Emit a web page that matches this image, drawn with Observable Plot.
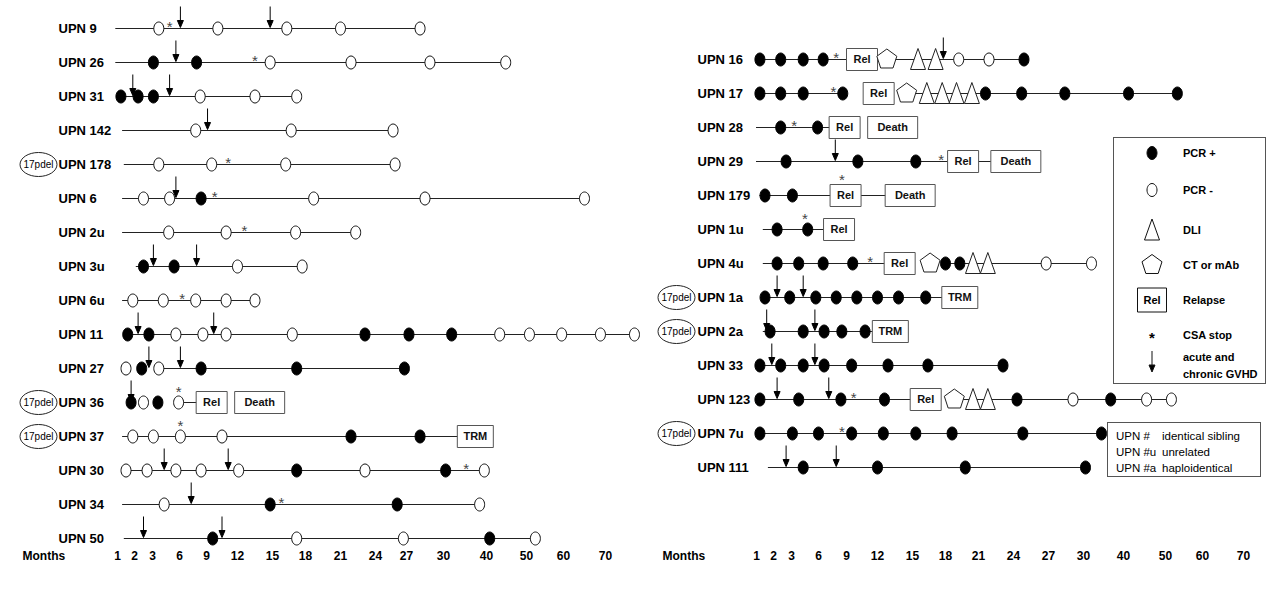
<!DOCTYPE html>
<html><head><meta charset="utf-8">
<script src="https://cdn.jsdelivr.net/npm/d3@7"></script>
<script src="https://cdn.jsdelivr.net/npm/@observablehq/plot@0.6"></script>
<style>
body{margin:0;background:#fff;}
#wrap{position:relative;width:1280px;height:592px;display:flex;font-family:"Liberation Sans",Arial,sans-serif;}
#wrap svg{display:block;}
#legend{position:absolute;left:0;top:0;pointer-events:none;}
</style></head><body><div id="wrap"></div>
<script>
// ---------- data ----------
const monthTicks = [1,2,3,6,9,12,15,18,21,24,27,30,40,50,60,70];

const leftRows = ["UPN 9","UPN 26","UPN 31","UPN 142","UPN 178","UPN 6","UPN 2u","UPN 3u","UPN 6u","UPN 11","UPN 27","UPN 36","UPN 37","UPN 30","UPN 34","UPN 50"];
const leftLines = [["UPN 9",0.9,28.1],["UPN 26",0.9,44.8],["UPN 31",1.2,17.2],["UPN 142",1.3,25.7],["UPN 178",1.4,25.9],["UPN 6",1.3,65],["UPN 2u",1.3,22.3],["UPN 3u",2.1,17.7],["UPN 6u",1.3,13.5],["UPN 11",1.6,76.9],["UPN 27",3.7,26.8],["UPN 36",5.9,9.5],["UPN 37",1.3,37.4],["UPN 30",1.5,39.5],["UPN 34",1.3,38.4],["UPN 50",1.4,52.4]];
const leftPcrPos = [["UPN 26",3.1,7.9],["UPN 31",1.2,2.2,3.1],["UPN 6",8.4],["UPN 3u",2.5,5.4],["UPN 11",1.6,2.8,23.1,27.2,31.9],["UPN 27",2.4,8.4,17.2,26.8],["UPN 36",1.8,3.6],["UPN 37",21.9,28.1],["UPN 30",17.2,30.5],["UPN 34",14.8,26.1],["UPN 50",9.6,40.8]];
const leftPcrNeg = [["UPN 9",3.7,10.1,16.3,21.0,28.1],["UPN 26",14.8,21.9,28.9,44.8],["UPN 31",8.3,13.5,17.2],["UPN 142",7.8,16.7,25.7],["UPN 178",3.7,9.5,16.2,25.9],["UPN 6",2.5,4.9,18.7,28.5,65],["UPN 2u",4.8,10.9,17.1,22.3],["UPN 3u",12,17.7],["UPN 6u",1.9,4.2,7.8,10.9,13.5],["UPN 11",5.6,8.6,10.9,16.8,43.3,50.8,59.5,68.8,76.9],["UPN 27",1.5,3.7],["UPN 36",2.5,5.9],["UPN 37",1.9,3.1,6.1,10.5],["UPN 30",1.5,2.7,5.6,8.4,12.1,23.1,39.5],["UPN 34",4.3,38.4],["UPN 50",17.2,26.7,52.4]];
const leftGvhd = [["UPN 9",6.1,14.8],["UPN 26",5.6],["UPN 31",1.9,4.9],["UPN 142",9.1],["UPN 6",5.6],["UPN 3u",3.1,7.9],["UPN 11",2.2,9.7],["UPN 27",2.8,6.1],["UPN 36",1.8],["UPN 30",4.3,11.1],["UPN 34",7.3],["UPN 50",2.5,10.5]];
const leftCsa = [["UPN 9",4.9],["UPN 26",13.5],["UPN 178",11.1],["UPN 6",9.8],["UPN 2u",12.6],["UPN 6u",6.3],["UPN 30",35.3],["UPN 34",15.8]];
const leftCsaAbove = [["UPN 36",5.9],["UPN 37",6.1]];
const leftCsaOverBox = [];
const leftEvents = [["UPN 36",9.5,"Rel"],["UPN 36",13.9,"Death"],["UPN 37",37.4,"TRM"]];
const leftCt = [];
const leftDli = [];
const leftDel = ["UPN 178","UPN 36","UPN 37"];

const rightRows = ["UPN 16","UPN 17","UPN 28","UPN 29","UPN 179","UPN 1u","UPN 4u","UPN 1a","UPN 2a","UPN 33","UPN 123","UPN 7u","UPN 111"];
const rightLines = [["UPN 16",1.2,10.5],["UPN 16",12.8,24.9],["UPN 17",1.2,8.6],["UPN 17",14.5,53.2],["UPN 28",1.0,8.8],["UPN 29",1.0,24.2],["UPN 179",1.2,14.8],["UPN 1u",1.4,8.2],["UPN 4u",1.4,13.9],["UPN 4u",18.0,32.0],["UPN 1a",1.4,19.3],["UPN 2a",1.4,13.1],["UPN 33",1.2,23.1],["UPN 123",1.2,16.2],["UPN 123",18.8,51.6],["UPN 7u",1.2,34.5],["UPN 111",1.7,30.5]];
const rightPcrPos = [["UPN 16",1.2,2.4,4.3,6.5,24.9],["UPN 17",1.2,2.4,4.3,8.6,21.6,24.7,28.4,41.2,53.2],["UPN 28",2.4,5.9],["UPN 29",2.7,10.1,15.3],["UPN 179",1.5,3.1],["UPN 1u",2.2,4.8],["UPN 4u",2.2,3.8,6.5,9.6,18.0,19.3],["UPN 1a",1.5,2.9,5.7,7.9,10.0,12.0,13.8,16.2],["UPN 2a",1.8,4.3,6.6,8.5,10.8],["UPN 33",1.2,2.4,4.3,6.6,9.5,12.9,16.4,23.1],["UPN 123",1.2,3.8,8.4,12.6,24.3,36.8],["UPN 7u",1.2,3.1,6.0,9.5,12.5,15.3,18.6,24.8,34.5],["UPN 111",4.3,12.0,19.8,30.5]];
const rightPcrNeg = [["UPN 16",19.2,21.9],["UPN 4u",26.8,32.0],["UPN 123",29.1,45.5,51.6]];
const rightGvhd = [["UPN 16",17.8],["UPN 29",7.8],["UPN 1a",2.2,4.3],["UPN 2a",1.6,5.6],["UPN 33",1.9,5.6],["UPN 123",2.2,7.1],["UPN 111",2.7,7.9]];
const rightCsa = [["UPN 16",7.9],["UPN 17",7.6],["UPN 28",3.3],["UPN 29",17.6],["UPN 4u",11.3],["UPN 123",9.7],["UPN 7u",8.5]];
const rightCsaAbove = [["UPN 1u",4.5]];
const rightCsaOverBox = [["UPN 179",8.5]];
const rightEvents = [["UPN 16",10.5,"Rel"],["UPN 17",12.1,"Rel"],["UPN 28",8.8,"Rel"],["UPN 28",13.3,"Death"],["UPN 29",19.6,"Rel"],["UPN 29",24.2,"Death"],["UPN 179",8.9,"Rel"],["UPN 179",14.8,"Death"],["UPN 1u",8.2,"Rel"],["UPN 4u",13.9,"Rel"],["UPN 1a",19.3,"TRM"],["UPN 2a",13.1,"TRM"],["UPN 123",16.2,"Rel"]];
const rightCt = [["UPN 16",12.8],["UPN 17",14.5],["UPN 4u",16.6],["UPN 123",18.8]];
const rightDli = [["UPN 16",15.5,17.1],["UPN 17",16.3,17.7,19.0,20.4],["UPN 4u",20.5,21.8],["UPN 123",20.5,21.8]];
const rightDel = ["UPN 1a","UPN 2a","UPN 7u"];

const legendLabels = ["PCR +","PCR -","DLI","CT or mAb","Relapse","CSA stop"];
const legendGvhd = ["acute and","chronic GVHD"];
const donorCodes = ["UPN #","UPN #u","UPN #a"];
const donorTypes = ["identical sibling","unrelated","haploidentical"];

// ---------- helpers ----------
const flat = (t) => t.flatMap(([row, ...ms]) => ms.map((m) => ({row, m})));
const segs = (t) => t.map(([row, a, b]) => ({row, a, b}));
const evts = (t) => t.map(([row, m, label]) => ({row, m, label}));

const ellipse = (rx, ry) => ({draw(c) {
  const k = 0.5523;
  c.moveTo(rx, 0);
  c.bezierCurveTo(rx, ry * k, rx * k, ry, 0, ry);
  c.bezierCurveTo(-rx * k, ry, -rx, ry * k, -rx, 0);
  c.bezierCurveTo(-rx, -ry * k, -rx * k, -ry, 0, -ry);
  c.bezierCurveTo(rx * k, -ry, rx, -ry * k, rx, 0);
  c.closePath();
}});
const dotSym = ellipse(5, 6.5);
const delSym = ellipse(18.5, 12);
const arrowSym = {draw(c) { c.moveTo(0, -22); c.lineTo(0, -7); c.moveTo(-3, -8); c.lineTo(3, -8); c.lineTo(0, -1); c.closePath(); }};
const pentSym = {draw(c) { const R = 10.5; for (let i = 0; i < 5; i++) { const a = -Math.PI / 2 + i * 2 * Math.PI / 5; const px = R * Math.cos(a), py = R * Math.sin(a); if (i) c.lineTo(px, py); else c.moveTo(px, py); } c.closePath(); }};
const triSym = {draw(c) { c.moveTo(0, -11); c.lineTo(7.5, 10); c.lineTo(-7.5, 10); c.closePath(); }};
const boxSym = (w, h) => ({draw(c) { c.moveTo(-w / 2, -h / 2); c.lineTo(w / 2, -h / 2); c.lineTo(w / 2, h / 2); c.lineTo(-w / 2, h / 2); c.closePath(); }});
const boxes = {Rel: boxSym(31, 22), Death: boxSym(50, 22), TRM: boxSym(36, 22)};

function panel(cfg) {
  const ev = evts(cfg.events);
  const marks = [
    Plot.ruleY(segs(cfg.lines), {y: "row", x1: "a", x2: "b", stroke: "#222", strokeWidth: 1}),
    ...Object.keys(boxes).map((k) => Plot.dot(ev.filter((d) => d.label === k), {x: "m", y: "row", symbol: boxes[k], fill: "white", stroke: "#555", strokeWidth: 1})),
    Plot.text(ev, {x: "m", y: "row", text: "label", fontWeight: "bold", fontSize: 11, fill: "#111"}),
    Plot.dot(flat(cfg.ct), {x: "m", y: "row", symbol: pentSym, fill: "white", stroke: "#222", strokeWidth: 1}),
    Plot.dot(flat(cfg.dli), {x: "m", y: "row", symbol: triSym, fill: "white", stroke: "#222", strokeWidth: 1}),
    Plot.dot(flat(cfg.neg), {x: "m", y: "row", symbol: dotSym, fill: "white", stroke: "#111", strokeWidth: 1}),
    Plot.dot(flat(cfg.pos), {x: "m", y: "row", symbol: dotSym, fill: "black", stroke: "black", strokeWidth: 1}),
    Plot.dot(flat(cfg.gvhd), {x: "m", y: "row", symbol: arrowSym, fill: "black", stroke: "black", strokeWidth: 1}),
    Plot.text(flat(cfg.csa), {x: "m", y: "row", text: () => "*", fontSize: 15, fill: "#444", dy: -1}),
    Plot.text(flat(cfg.csaAbove), {x: "m", y: "row", text: () => "*", fontSize: 15, fill: "#444", dy: -10}),
    Plot.text(flat(cfg.csaOverBox), {x: "m", y: "row", text: () => "*", fontSize: 15, fill: "#444", dy: -15}),
    Plot.text(cfg.rows, {y: (d) => d, text: (d) => d, frameAnchor: "left", dx: cfg.labelX, textAnchor: "start", fontWeight: "bold", fontSize: 13, fill: "#000"}),
    Plot.dot(cfg.del, {y: (d) => d, frameAnchor: "left", dx: cfg.delX, symbol: delSym, fill: "white", stroke: "#222", strokeWidth: 1}),
    Plot.text(cfg.del, {y: (d) => d, frameAnchor: "left", dx: cfg.delX, textAnchor: "middle", text: () => "17pdel", fontSize: 10, fill: "#000"}),
    Plot.text(monthTicks, {x: (d) => d, frameAnchor: "bottom", dy: -33, text: (d) => String(d), fontWeight: "bold", fontSize: 12, fill: "#000"}),
    Plot.text(["Months"], {frameAnchor: "bottom-left", dx: 22, dy: -33, textAnchor: "start", text: (d) => d, fontWeight: "bold", fontSize: 12, fill: "#000"})
  ];
  return Plot.plot({
    width: 640, height: 592, margin: 0,
    style: {fontFamily: "'Liberation Sans', Arial, sans-serif", background: "white", overflow: "visible"},
    x: {type: "linear", domain: monthTicks, range: cfg.xRange, axis: null},
    y: {type: "point", domain: cfg.rows, range: cfg.yRange, padding: 0, axis: null},
    marks
  });
}

const wrap = document.getElementById("wrap");
wrap.append(panel({
  rows: leftRows, lines: leftLines, pos: leftPcrPos, neg: leftPcrNeg, gvhd: leftGvhd, csa: leftCsa, csaAbove: leftCsaAbove, csaOverBox: leftCsaOverBox,
  events: leftEvents, ct: leftCt, dli: leftDli, del: leftDel, labelX: 58, delX: 38,
  xRange: [117,134,152,179,206,237,272,305,340,375,406,443,486,526,563,605], yRange: [27, 538]
}));
wrap.append(panel({
  rows: rightRows, lines: rightLines, pos: rightPcrPos, neg: rightPcrNeg, gvhd: rightGvhd, csa: rightCsa, csaAbove: rightCsaAbove, csaOverBox: rightCsaOverBox,
  events: rightEvents, ct: rightCt, dli: rightDli, del: rightDel, labelX: 57, delX: 36,
  xRange: [116,133,151,178,206,237,272,305,338,373,408,443,483,525,562,603], yRange: [56, 469]
}));

// ---------- legend overlay ----------
const svg = d3.select(wrap).append("svg").attr("id", "legend").attr("width", 1280).attr("height", 592)
  .style("font-family", "'Liberation Sans', Arial, sans-serif");
svg.append("rect").attr("x", 1113.5).attr("y", 137.5).attr("width", 152).attr("height", 246).attr("fill", "none").attr("stroke", "#555");
const sx = 1152, tx = 1183;
const ly = [153, 190, 230, 265, 300, 335];
const pathOf = (sym, x, y) => { const p = d3.path(); sym.draw(p, 0); return {d: p.toString(), t: `translate(${x},${y})`}; };
const drawSym = (sym, y, fill) => { const o = pathOf(sym, sx, y); svg.append("path").attr("d", o.d).attr("transform", o.t).attr("fill", fill).attr("stroke", "#111"); };
drawSym(dotSym, ly[0], "black");
drawSym(dotSym, ly[1], "white");
drawSym(triSym, ly[2], "white");
drawSym(pentSym, ly[3], "white");
drawSym(boxSym(29, 24), ly[4], "white");
svg.append("text").attr("x", sx).attr("y", ly[4] + 4).attr("text-anchor", "middle").attr("font-size", 11).attr("font-weight", "bold").text("Rel");
svg.append("text").attr("x", sx).attr("y", ly[5] + 8).attr("text-anchor", "middle").attr("font-size", 15).attr("font-weight", "bold").text("*");
drawSym(arrowSym, 373, "black");
legendLabels.forEach((t, i) => svg.append("text").attr("x", tx).attr("y", ly[i] + 4).attr("font-size", 11).attr("font-weight", "bold").text(t));
legendGvhd.forEach((t, i) => svg.append("text").attr("x", tx).attr("y", 361 + i * 17).attr("font-size", 11).attr("font-weight", "bold").text(t));
svg.append("rect").attr("x", 1107.5).attr("y", 422.5).attr("width", 153).attr("height", 54).attr("fill", "white").attr("stroke", "#555");
donorCodes.forEach((t, i) => svg.append("text").attr("x", 1116).attr("y", 440 + i * 16).attr("font-size", 11.5).text(t));
donorTypes.forEach((t, i) => svg.append("text").attr("x", 1162).attr("y", 440 + i * 16).attr("font-size", 11.5).text(t));
</script></body></html>
